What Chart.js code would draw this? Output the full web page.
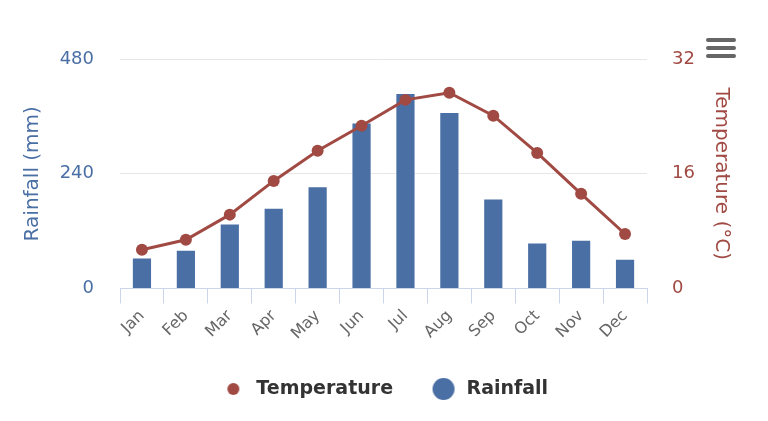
<!DOCTYPE html>
<html>
<head>
<meta charset="utf-8">
<script src="https://cdn.jsdelivr.net/npm/chart.js@4"></script>
<style>
  html, body { margin: 0; padding: 0; background: #fff; }
  #wrap { width: 768px; height: 421px; }
</style>
</head>
<body>
<div id="wrap"><canvas id="myChart"></canvas></div>
<script>
const months = ['Jan', 'Feb', 'Mar', 'Apr', 'May', 'Jun', 'Jul', 'Aug', 'Sep', 'Oct', 'Nov', 'Dec']
const rainfall = [65, 81, 136, 169, 214, 347, 409, 369, 188, 96, 102, 62]
const temperature = [5.4, 6.8, 10.3, 15.0, 19.2, 22.7, 26.3, 27.3, 24.1, 18.9, 13.2, 7.6]
const rainTicks = [0, 240, 480]
const tempTicks = [0, 16, 32]

const blue = '#4a6fa5'
const red = '#a04a43'
const font = 'DejaVu Sans'

// legend markers: small dot for the line, bigger dot for the bars
const makeDot = (r, color) => {
    const c = document.createElement('canvas')
    c.width = r * 2 + 2
    c.height = r * 2 + 2
    const g = c.getContext('2d')
    g.fillStyle = color
    g.beginPath()
    g.arc(r + 1, r + 1, r, 0, Math.PI * 2)
    g.fill()
    return c
}

// the little menu button in the top right corner
const menuIcon = {
    id: 'menuIcon',
    afterDraw(chart) {
        const g = chart.ctx
        g.save()
        g.strokeStyle = '#666'
        g.lineWidth = 4
        g.lineCap = 'round'
        ;[40, 48, 56].forEach((y) => {
            g.beginPath()
            g.moveTo(708, y)
            g.lineTo(734, y)
            g.stroke()
        })
        g.restore()
    }
}

const ctx = document.getElementById('myChart')
const myChart = new Chart(ctx, {
    data: {
        labels: months,
        datasets: [
            {
                type: 'line',
                label: 'Temperature',
                data: temperature,
                yAxisID: 'y1',
                borderColor: red,
                backgroundColor: red,
                borderWidth: 3,
                pointRadius: 6,
                pointBackgroundColor: red,
                pointBorderWidth: 0,
                tension: 0,
            },
            {
                type: 'bar',
                label: 'Rainfall',
                data: rainfall,
                yAxisID: 'y',
                backgroundColor: blue,
                borderColor: '#ffffff',
                borderWidth: 1,
                categoryPercentage: 1,
                barPercentage: 0.46,
            },
        ],
    },
    options: {
        responsive: true,
        maintainAspectRatio: false,
        animation: false,
        layout: { padding: { top: 59, left: 0, right: 0, bottom: 12.5 } },
        plugins: {
            tooltip: { enabled: false },
            legend: {
                position: 'bottom',
                labels: {
                    usePointStyle: true,
                    pointStyleWidth: 27,
                    padding: 37,
                    color: '#333',
                    font: { family: font, size: 19, weight: 'bold' },
                    generateLabels: (chart) => chart.data.datasets.map((ds, i) => ({
                        text: ds.label,
                        datasetIndex: i,
                        pointStyle: i === 0 ? makeDot(6, red) : makeDot(11, blue),
                        fontColor: '#333',
                        hidden: false,
                        lineWidth: 0,
                    })),
                },
            },
        },
        scales: {
            x: {
                offset: true,
                afterFit: (scale) => { scale.height = 54 },
                border: { color: '#ccd6eb', width: 1 },
                grid: {
                    offset: true,
                    drawOnChartArea: false,
                    drawTicks: true,
                    tickLength: 15,
                    color: '#ccd6eb',
                },
                ticks: {
                    color: '#666',
                    minRotation: 45,
                    maxRotation: 45,
                    padding: 3,
                    font: { family: font, size: 16 },
                },
            },
            y: {
                position: 'left',
                min: 0,
                max: 480,
                afterFit: (scale) => { scale.width = 120 },
                afterBuildTicks: (scale) => { scale.ticks = rainTicks.map((v) => ({ value: v })) },
                border: { display: false },
                grid: { color: '#e6e6e6', drawTicks: false },
                ticks: {
                    color: blue,
                    padding: 26,
                    font: { family: font, size: 18 },
                },
                title: {
                    display: true,
                    text: 'Rainfall (mm)',
                    color: blue,
                    padding: { top: 21, bottom: 0 },
                    font: { family: font, size: 20 },
                },
            },
            y1: {
                position: 'right',
                min: 0,
                max: 32,
                afterFit: (scale) => { scale.width = 121 },
                afterBuildTicks: (scale) => { scale.ticks = tempTicks.map((v) => ({ value: v })) },
                border: { display: false },
                grid: { drawOnChartArea: false, drawTicks: false },
                ticks: {
                    color: red,
                    padding: 25,
                    font: { family: font, size: 18 },
                },
                title: {
                    display: true,
                    text: 'Temperature (°C)',
                    color: red,
                    padding: { top: 35, bottom: 0 },
                    font: { family: font, size: 20 },
                },
            },
        },
    },
    plugins: [menuIcon],
})
</script>
</body>
</html>
